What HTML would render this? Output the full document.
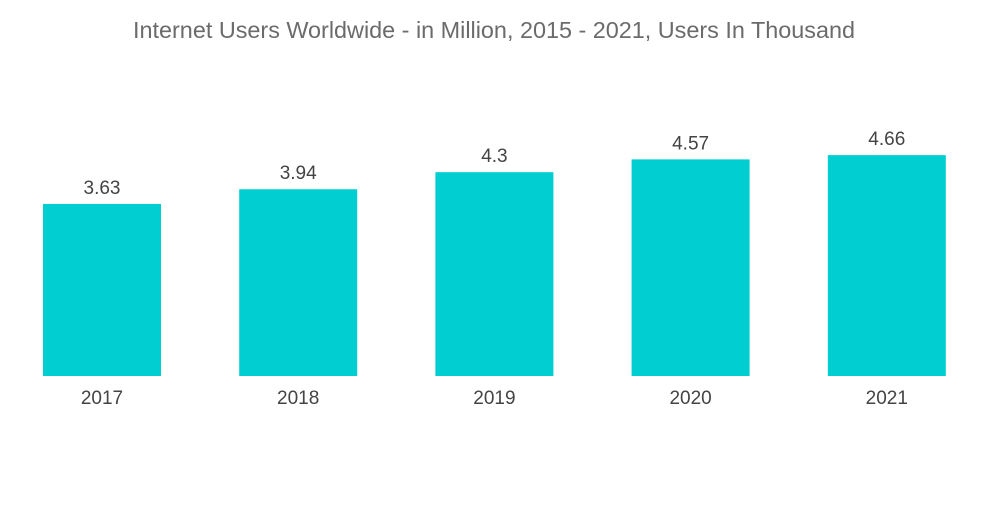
<!DOCTYPE html>
<html><head><meta charset="utf-8"><style>
body{margin:0;background:#fff;width:1000px;height:504px;overflow:hidden;font-family:"Liberation Sans",sans-serif}
</style></head><body>
<svg id="chart" width="1000" height="504">
<text x="494" y="38" text-anchor="middle" font-size="23.4" fill="#6b6b6b">Internet Users Worldwide - in Million, 2015 - 2021, Users In Thousand</text>
<g id="bars"></g>
</svg>
<script>
const categories=["2017","2018","2019","2020","2021"];
const values=[3.63,3.94,4.3,4.57,4.66];
const labels=["3.63","3.94","4.3","4.57","4.66"];
const ns="http://www.w3.org/2000/svg";
const baseY=376, pxPerUnit=47.4, x0=43, step=196.2, bw=118;
const y=v=>baseY-v*pxPerUnit;
const x=i=>x0+i*step;
const g=document.getElementById('bars');
categories.forEach((c,i)=>{
 const r=document.createElementNS(ns,'rect');
 r.setAttribute('x',x(i));r.setAttribute('y',y(values[i]));
 r.setAttribute('width',bw);r.setAttribute('height',baseY-y(values[i]));
 r.setAttribute('fill','#00ced1');
 
 
 g.appendChild(r);
 const t=document.createElementNS(ns,'text');
 t.setAttribute('x',x(i)+bw/2);t.setAttribute('y',y(values[i])-10);
 t.setAttribute('text-anchor','middle');t.setAttribute('font-size','19');t.setAttribute('fill','#444');
 t.textContent=labels[i];
 
 
 g.appendChild(t);
 const xl=document.createElementNS(ns,'text');
 xl.setAttribute('x',x(i)+bw/2);xl.setAttribute('y',404);
 xl.setAttribute('text-anchor','middle');xl.setAttribute('font-size','19');xl.setAttribute('fill','#444');
 xl.textContent=c;
 
 
 g.appendChild(xl);
});
</script>
</body></html>
